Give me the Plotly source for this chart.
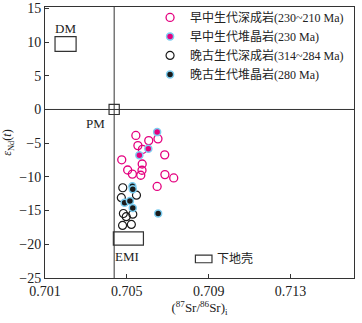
import plotly.graph_objects as go

# ---- data ----
early_pluton_x = [0.70544, 0.70607, 0.70652, 0.70554, 0.70576, 0.70685, 0.70475, 0.70575,
                  0.70574, 0.70504, 0.70527, 0.70568, 0.70686, 0.70729, 0.70648]
early_pluton_y = [-3.85, -4.62, -4.36, -5.36, -5.92, -6.73, -7.47, -8.09,
                  -9.02, -8.98, -9.59, -9.76, -9.66, -10.16, -11.42]
early_cum_x = [0.70648, 0.70605, 0.70561]
early_cum_y = [-3.36, -5.84, -6.80]
late_pluton_x = [0.70480, 0.70547, 0.70473, 0.70483, 0.70497, 0.70529, 0.70479, 0.70522]
late_pluton_y = [-11.61, -12.72, -13.09, -15.43, -15.90, -15.53, -17.20, -17.06]
late_cum_x = [0.70527, 0.70529, 0.70489, 0.70515, 0.70529, 0.70653]
late_cum_y = [-11.39, -11.83, -13.83, -13.58, -14.60, -15.43]

series_names = ["早中生代深成岩(230~210 Ma)", "早中生代堆晶岩(230 Ma)",
                "晚古生代深成岩(314~284 Ma)", "晚古生代堆晶岩(280 Ma)"]

x_ticks = [0.701, 0.705, 0.709, 0.713]
y_ticks = [-25, -20, -15, -10, -5, 0, 5, 10, 15]

# reference reservoirs: [x0, x1, y0, y1]
dm_box = [0.70149, 0.70252, 8.62, 10.8]
emi_box = [0.70434, 0.70581, -20.12, -18.15]
lc_box = [0.70835, 0.70916, -22.74, -21.6]
pm_point = [0.70438, 0.0]

X_RANGE = [0.701, 0.7161]
Y_RANGE = [-25, 15.2]

FONT = "Liberation Serif, Times New Roman, Noto Sans CJK SC, serif"
PINK = "#e4007f"
CYAN = "#7ccdf0"
DARK = "#1a1a1a"

fig = go.Figure()
fig.add_trace(go.Scatter(x=early_pluton_x, y=early_pluton_y, mode="markers", name=series_names[0],
                         marker=dict(symbol="circle-open", size=8, color=PINK, line=dict(width=1.3, color=PINK))))
fig.add_trace(go.Scatter(x=early_cum_x, y=early_cum_y, mode="markers", name=series_names[1],
                         marker=dict(symbol="circle", size=7, color=PINK, line=dict(width=1.5, color=CYAN))))
fig.add_trace(go.Scatter(x=late_pluton_x, y=late_pluton_y, mode="markers", name=series_names[2],
                         marker=dict(symbol="circle-open", size=8, color=DARK, line=dict(width=1.2, color=DARK))))
fig.add_trace(go.Scatter(x=late_cum_x, y=late_cum_y, mode="markers", name=series_names[3],
                         marker=dict(symbol="circle", size=7, color=DARK, line=dict(width=1.5, color=CYAN))))

line_col = "#333333"
shapes = []
shapes.append(dict(type="line", xref="x", yref="y", x0=pm_point[0], x1=pm_point[0], y0=Y_RANGE[0], y1=Y_RANGE[1],
                   line=dict(color=line_col, width=1)))
shapes.append(dict(type="line", xref="x", yref="y", x0=X_RANGE[0], x1=X_RANGE[1], y0=pm_point[1], y1=pm_point[1],
                   line=dict(color=line_col, width=1)))
for b in (dm_box, emi_box, lc_box):
    shapes.append(dict(type="rect", xref="x", yref="y", x0=b[0], x1=b[1], y0=b[2], y1=b[3],
                       line=dict(color=line_col, width=1.2), fillcolor="rgba(0,0,0,0)"))
shapes.append(dict(type="rect", xref="x", yref="y", x0=pm_point[0] - 0.00025, x1=pm_point[0] + 0.00025,
                   y0=pm_point[1] - 0.75, y1=pm_point[1] + 0.75,
                   line=dict(color=line_col, width=1.2), fillcolor="rgba(0,0,0,0)"))

annotations = [
    dict(x=(dm_box[0] + dm_box[1]) / 2, y=12.0, text="DM", showarrow=False, xref="x", yref="y",
         font=dict(family=FONT, size=13, color="#222")),
    dict(x=0.70345, y=-2.1, text="PM", showarrow=False, xref="x", yref="y",
         font=dict(family=FONT, size=13, color="#222")),
    dict(x=(emi_box[0] + emi_box[1]) / 2 - 0.00007, y=-21.75, text="EMI", showarrow=False, xref="x", yref="y",
         font=dict(family=FONT, size=13, color="#222")),
    dict(x=lc_box[1] + 0.00015, y=(lc_box[2] + lc_box[3]) / 2, text="下地壳", showarrow=False, xref="x", yref="y",
         xanchor="left", font=dict(family=FONT, size=12, color="#222")),
]

fig.update_layout(
    width=362, height=323,
    margin=dict(l=45, r=8, t=7, b=45, autoexpand=False),
    paper_bgcolor="white", plot_bgcolor="white",
    font=dict(family=FONT, size=13, color="#222"),
    shapes=shapes, annotations=annotations,
    showlegend=True,
    legend=dict(x=0.34, y=1.015, xanchor="left", yanchor="top", bgcolor="rgba(0,0,0,0)",
                font=dict(family=FONT, size=12, color="#222"), tracegroupgap=0,
                itemwidth=30, borderwidth=0),
)
fig.update_xaxes(range=X_RANGE, tickvals=x_ticks, ticktext=[f"{v:.3f}" for v in x_ticks],
                 ticks="inside", ticklen=4, tickcolor=line_col, showgrid=False, zeroline=False,
                 showline=True, linecolor=line_col, linewidth=1, mirror=True, automargin=False,
                 tickfont=dict(family=FONT, size=14),
                 title=dict(text="(<sup>87</sup>Sr/<sup>86</sup>Sr)<sub>i</sub>", standoff=4,
                            font=dict(family=FONT, size=13)))
fig.update_yaxes(range=Y_RANGE, tickvals=y_ticks, ticks="inside", ticklen=4, tickcolor=line_col,
                 showgrid=False, zeroline=False, showline=True, linecolor=line_col, linewidth=1, mirror=True,
                 automargin=False, tickfont=dict(family=FONT, size=14),
                 title=dict(text="<i>ε</i><sub>Nd</sub>(<i>t</i>)", standoff=6,
                            font=dict(family=FONT, size=12)))

fig.write_html("out.html", config={"displayModeBar": False},
               post_script="document.body.style.margin='0';document.body.style.overflow='hidden';")
